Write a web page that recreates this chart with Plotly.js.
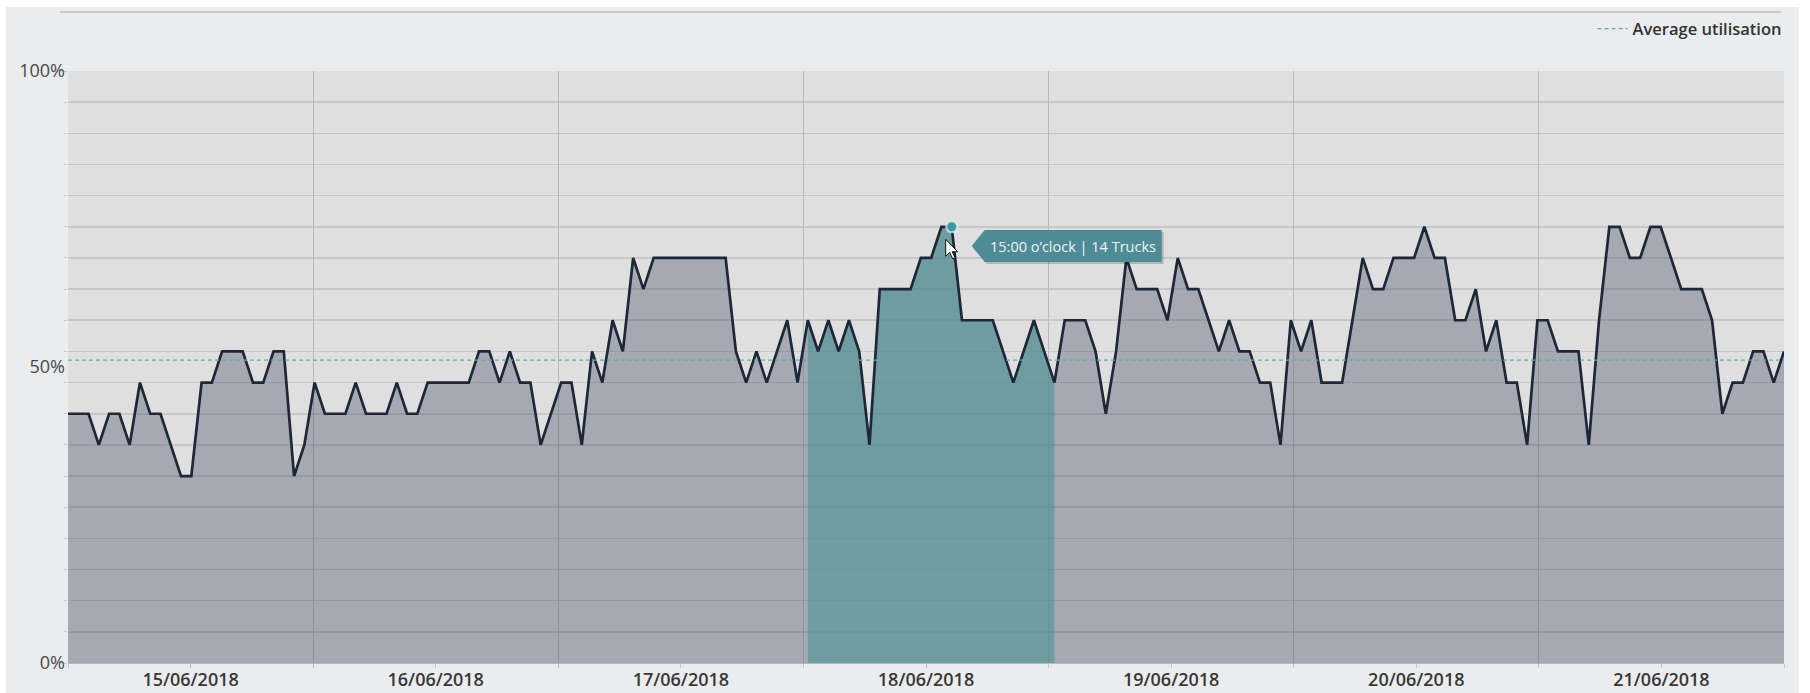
<!DOCTYPE html>
<html>
<head>
<meta charset="utf-8">
<script src="https://cdn.plot.ly/plotly-3.0.1.min.js"></script>
<style>
  html, body { margin: 0; padding: 0; background: #ffffff; }
  #chart { width: 1810px; height: 693px; }
</style>
</head>
<body>
<div id="chart"></div>
<script>
// ---- Data (trucks in use per hour, capacity 19 trucks = 100%) ----
const dayLabels = ["15/06/2018", "16/06/2018", "17/06/2018", "18/06/2018", "19/06/2018", "20/06/2018", "21/06/2018"];
const dayCenters = [0.5, 1.5, 2.5, 3.5, 4.5, 5.5, 6.5];
const dayBoundaries = [0, 1, 2, 3, 4, 5, 6, 7];

const trucks = [
  // 15/06
  8, 8, 8, 7, 8, 8, 7, 9, 8, 8, 7, 6, 6, 9, 9, 10, 10, 10, 9, 9, 10, 10, 6, 7,
  // 16/06
  9, 8, 8, 8, 9, 8, 8, 8, 9, 8, 8, 9, 9, 9, 9, 9, 10, 10, 9, 10, 9, 9, 7, 8,
  // 17/06
  9, 9, 7, 10, 9, 11, 10, 13, 12, 13, 13, 13, 13, 13, 13, 13, 13, 10, 9, 10, 9, 10, 11, 9,
  // 18/06
  11, 10, 11, 10, 11, 10, 7, 12, 12, 12, 12, 13, 13, 14, 14, 11, 11, 11, 11, 10, 9, 10, 11, 10,
  // 19/06
  9, 11, 11, 11, 10, 8, 10, 13, 12, 12, 12, 11, 13, 12, 12, 11, 10, 11, 10, 10, 9, 9, 7, 11,
  // 20/06
  10, 11, 9, 9, 9, 11, 13, 12, 12, 13, 13, 13, 14, 13, 13, 11, 11, 12, 10, 11, 9, 9, 7, 11,
  // 21/06
  11, 10, 10, 10, 7, 11, 14, 14, 13, 13, 14, 14, 13, 12, 12, 12, 11, 8, 9, 9, 10, 10, 9, 10
];
const hourIndex = trucks.map((_, i) => i);

const capacity = 19;            // trucks = 100 %
const averageTrucks = 9.72;     // dashed "Average utilisation" level
const yTickVals = [0, 9.5, 19];
const yTickText = ["0%", "50%", "100%"];
const gridLevels = Array.from({length: capacity + 1}, (_, k) => k);

const highlightStart = 72;      // hovered day band
const highlightEnd = 96;
const hoverIdx = 86;            // hovered point
const tooltipText = "15:00 o\u2019clock | 14 Trucks";

const hlX = hourIndex.slice(highlightStart, highlightEnd + 1);
const hlY = trucks.slice(highlightStart, highlightEnd + 1);

const FONT = "'Open Sans', 'Noto Sans', sans-serif";

const traces = [
  { // grey area
    x: hourIndex, y: trucks, xaxis: 'x', yaxis: 'y',
    type: 'scatter', mode: 'lines', fill: 'tozeroy',
    fillcolor: 'rgba(80,87,107,0.40)', line: {width: 0, color: 'rgba(0,0,0,0)'},
    showlegend: false, hoverinfo: 'skip'
  },
  { // highlighted day
    x: hlX, y: hlY, xaxis: 'x', yaxis: 'y',
    type: 'scatter', mode: 'lines', fill: 'tozeroy',
    fillcolor: 'rgba(82,148,154,0.66)', line: {width: 0, color: 'rgba(0,0,0,0)'},
    showlegend: false, hoverinfo: 'skip'
  },
  { // average line
    x: [dayBoundaries[0], dayBoundaries[dayBoundaries.length - 1]],
    y: [averageTrucks, averageTrucks], xaxis: 'x2', yaxis: 'y',
    type: 'scatter', mode: 'lines', name: 'Average utilisation',
    line: {color: '#69a8b0', width: 1.3, dash: '4px,3px'},
    showlegend: true, hoverinfo: 'skip'
  },
  { // main line
    x: hourIndex, y: trucks, xaxis: 'x', yaxis: 'y',
    type: 'scatter', mode: 'lines',
    line: {color: '#1e2738', width: 2.7, shape: 'linear'},
    showlegend: false, hoverinfo: 'skip'
  },
  { // hovered point
    x: [hourIndex[hoverIdx]], y: [trucks[hoverIdx]], xaxis: 'x', yaxis: 'y',
    type: 'scatter', mode: 'markers',
    marker: {size: 11, color: '#3d99a3', line: {color: 'rgba(235,245,246,0.7)', width: 2}},
    showlegend: false, hoverinfo: 'skip'
  }
];

const layout = {
  width: 1810, height: 693,
  margin: {l: 68, r: 26, t: 68, b: 30, pad: 0},
  paper_bgcolor: '#ffffff',
  plot_bgcolor: 'rgba(0,0,0,0)',
  font: {family: FONT, color: '#3a3a3a'},
  hovermode: false,
  xaxis: {
    range: [0, trucks.length - 1], visible: false, fixedrange: true
  },
  xaxis2: {
    overlaying: 'x', anchor: 'y', side: 'bottom',
    range: [dayBoundaries[0], dayBoundaries[dayBoundaries.length - 1]],
    tickmode: 'array', tickvals: dayCenters, ticktext: dayLabels,
    showgrid: false, zeroline: false, showline: true, linecolor: '#b9b9b9', linewidth: 1,
    ticks: 'outside', ticklen: 4, tickcolor: '#c4c4c4', tickwidth: 1,
    ticklabelstandoff: -4,
    tickfont: {family: FONT, size: 18, color: '#383838', weight: 600},
    minor: {tickmode: 'array', tickvals: dayBoundaries, showgrid: true, gridcolor: '#b9b9b9',
            gridwidth: 1, ticks: 'outside', ticklen: 4, tickcolor: '#c4c4c4'},
    fixedrange: true
  },
  yaxis: {
    range: [0, capacity],
    tickmode: 'array', tickvals: yTickVals, ticktext: yTickText,
    showgrid: false, zeroline: false, showline: false,
    ticks: '', ticklabelstandoff: 2,
    tickfont: {family: FONT, size: 18, color: '#474747'},
    minor: {tickmode: 'array', tickvals: gridLevels, showgrid: true, gridcolor: '#c7c7c7',
            gridwidth: 1.6, ticks: 'outside', ticklen: 3, tickcolor: '#c9c9c9'},
    fixedrange: true
  },
  showlegend: true,
  legend: {
    x: 1.0015, xanchor: 'right', y: 1.071, yanchor: 'middle',
    orientation: 'h', bgcolor: 'rgba(0,0,0,0)', borderwidth: 0,
    font: {family: FONT, size: 16.5, color: '#333333', weight: 600}
  },
  shapes: [
    { // outer panel
      type: 'rect', xref: 'paper', yref: 'paper', layer: 'below',
      x0: -0.0363, x1: 1.0086, y0: -0.06, y1: 1.108,
      fillcolor: '#ebecee', line: {width: 0}
    },
    { // plot area background
      type: 'rect', xref: 'paper', yref: 'paper', layer: 'below',
      x0: 0, x1: 1, y0: 0, y1: 1,
      fillcolor: '#dfdfdf', line: {width: 0}
    },
    { // top rule
      type: 'line', xref: 'paper', yref: 'paper', layer: 'below',
      x0: -0.0048, x1: 0.9983, y0: 1.0997, y1: 1.0997,
      line: {color: '#cacaca', width: 2}
    },
    { // tooltip shadow
      type: 'path', xref: 'x', yref: 'y', xsizemode: 'pixel', ysizemode: 'pixel',
      xanchor: hourIndex[hoverIdx], yanchor: trucks[hoverIdx],
      path: 'M22,-21.2 L35,-5.2 L212,-5.2 L212,-37.2 L35,-37.2 Z',
      fillcolor: 'rgba(0,0,0,0.18)', line: {width: 0}, layer: 'above'
    },
    { // tooltip box with pointer
      type: 'path', xref: 'x', yref: 'y', xsizemode: 'pixel', ysizemode: 'pixel',
      xanchor: hourIndex[hoverIdx], yanchor: trucks[hoverIdx],
      path: 'M20,-19.2 L33,-3.2 L210,-3.2 L210,-35.2 L33,-35.2 Z',
      fillcolor: '#4e8b96', line: {width: 0}, layer: 'above'
    },
    { // mouse cursor
      type: 'path', xref: 'x', yref: 'y', xsizemode: 'pixel', ysizemode: 'pixel',
      xanchor: hourIndex[hoverIdx], yanchor: trucks[hoverIdx],
      path: 'M-6,-12.5 L-6,-29.5 L-2,-25.5 L1,-32 L3.5,-31 L0.5,-25 L6,-25 Z',
      fillcolor: '#ffffff', line: {color: '#111111', width: 1}, layer: 'above'
    }
  ],
  annotations: [
    {
      xref: 'x', yref: 'y', x: hourIndex[hoverIdx], y: trucks[hoverIdx],
      xshift: 121.5, yshift: -19.5, showarrow: false,
      text: tooltipText, xanchor: 'center', yanchor: 'middle',
      font: {family: FONT, size: 14.5, color: '#eef5f6'}
    }
  ]
};

Plotly.newPlot('chart', traces, layout, {displayModeBar: false, staticPlot: true});
</script>
</body>
</html>
